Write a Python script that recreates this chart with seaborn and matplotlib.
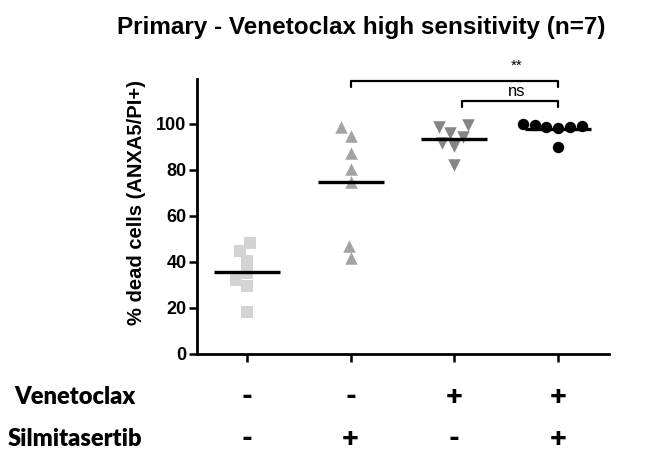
import numpy as np
import pandas as pd
import matplotlib
matplotlib.use("Agg")
import matplotlib.pyplot as plt
import matplotlib.transforms as mtransforms
import seaborn as sns

# ---------------- data ----------------
groups = ["V-/S-", "V-/S+", "V+/S-", "V+/S+"]
g1_values = [48.1, 44.9, 40.6, 32.2, 35.1, 29.7, 18.1]
g2_values = [98.5, 94.8, 87.3, 80.4, 74.6, 47.0, 41.6]
g3_values = [99.6, 98.5, 96.0, 94.5, 91.6, 90.4, 82.2]
g4_values = [99.8, 98.5, 99.5, 98.0, 99.0, 98.8, 90.0]
row_names = ["Venetoclax", "Silmitasertib"]
venetoclax_signs = ["-", "-", "+", "+"]
silmitasertib_signs = ["-", "+", "-", "+"]
y_ticks = [0, 20, 40, 60, 80, 100]
title = "Primary - Venetoclax high sensitivity (n=7)"
ylabel = "% dead cells (ANXA5/PI+)"
sig_labels = ["**", "ns"]

all_values = [g1_values, g2_values, g3_values, g4_values]
df = pd.DataFrame({
    "group": np.repeat(groups, [len(v) for v in all_values]),
    "value": np.concatenate(all_values),
})

markers = ["s", "^", "v", "o"]
colors = ["#d3d3d3", "#a3a3a3", "#858585", "#000000"]
sizes = [8.6, 9.0, 9.0, 8.2]

sns.set_theme(style="ticks", rc={"text.color": "black", "axes.labelcolor": "black",
                                 "xtick.color": "black", "ytick.color": "black",
                                 "axes.edgecolor": "black"})
plt.rcParams["font.family"] = ["Liberation Sans", "DejaVu Sans"]

fig = plt.figure(figsize=(6.62, 4.59), dpi=100)
ax = fig.add_axes([0.2976, 0.2288, 0.6224, 0.5991])

for g, m, c, s in zip(groups, markers, colors, sizes):
    sub = df[df["group"] == g]
    sns.swarmplot(data=sub, x="group", y="value", order=groups, marker=m,
                  color=c, size=s, linewidth=0, ax=ax, zorder=3, warn_thresh=1)

# mean lines
sns.pointplot(data=df, x="group", y="value", order=groups, estimator="mean",
              errorbar=None, linestyle="none", markers="_", color="black",
              markersize=48, markeredgewidth=2.4, ax=ax, zorder=4)

ax.set_xlim(-0.48, 3.49)
ax.set_ylim(0, 119.5)
ax.set_yticks(y_ticks)
ax.set_yticklabels([str(t) for t in y_ticks], fontsize=13, fontweight="bold")
ax.set_xticks(range(len(groups)))
ax.set_xticklabels([])
ax.set_xlabel("")
ax.set_ylabel(ylabel, fontsize=14.5, fontweight="bold")
ax.yaxis.set_label_coords(-0.125, 0.55)
sns.despine(ax=ax)
for sp in ["left", "bottom"]:
    ax.spines[sp].set_linewidth(2.0)
ax.tick_params(axis="both", width=1.8, length=5.5, color="black", pad=2)

fig.text(0.546, 0.94, title, ha="center", va="center", fontsize=17.5,
         fontweight="bold")

# significance brackets
lw = 1.6
ax.plot([1, 1, 3, 3], [116.2, 118.8, 118.8, 116.2], color="black", lw=lw,
        clip_on=False)
ax.plot([2.07, 2.07, 3, 3], [107.5, 110.1, 110.1, 107.5], color="black", lw=lw,
        clip_on=False)
ax.text(2.6, 125.3, sig_labels[0], ha="center", va="center", fontsize=11)
ax.text(2.6, 114.2, sig_labels[1], ha="center", va="center", fontsize=12)

# treatment table below the axis
trans = mtransforms.blended_transform_factory(ax.transData, fig.transFigure)
row_y = [1 - 397 / 459, 1 - 439 / 459]
tab_font = ["Lato", "DejaVu Sans"]
for yy, name, signs in zip(row_y, row_names, [venetoclax_signs, silmitasertib_signs]):
    fig.text(75 / 662, yy, name, ha="center", va="center", fontsize=17,
             fontweight="heavy", family=tab_font)
    for i, s in enumerate(signs):
        ax.text(i, yy, s, transform=trans, ha="center", va="center",
                fontsize=21, fontweight="heavy", family=tab_font)

fig.savefig("out.png", dpi=100, facecolor="white")
